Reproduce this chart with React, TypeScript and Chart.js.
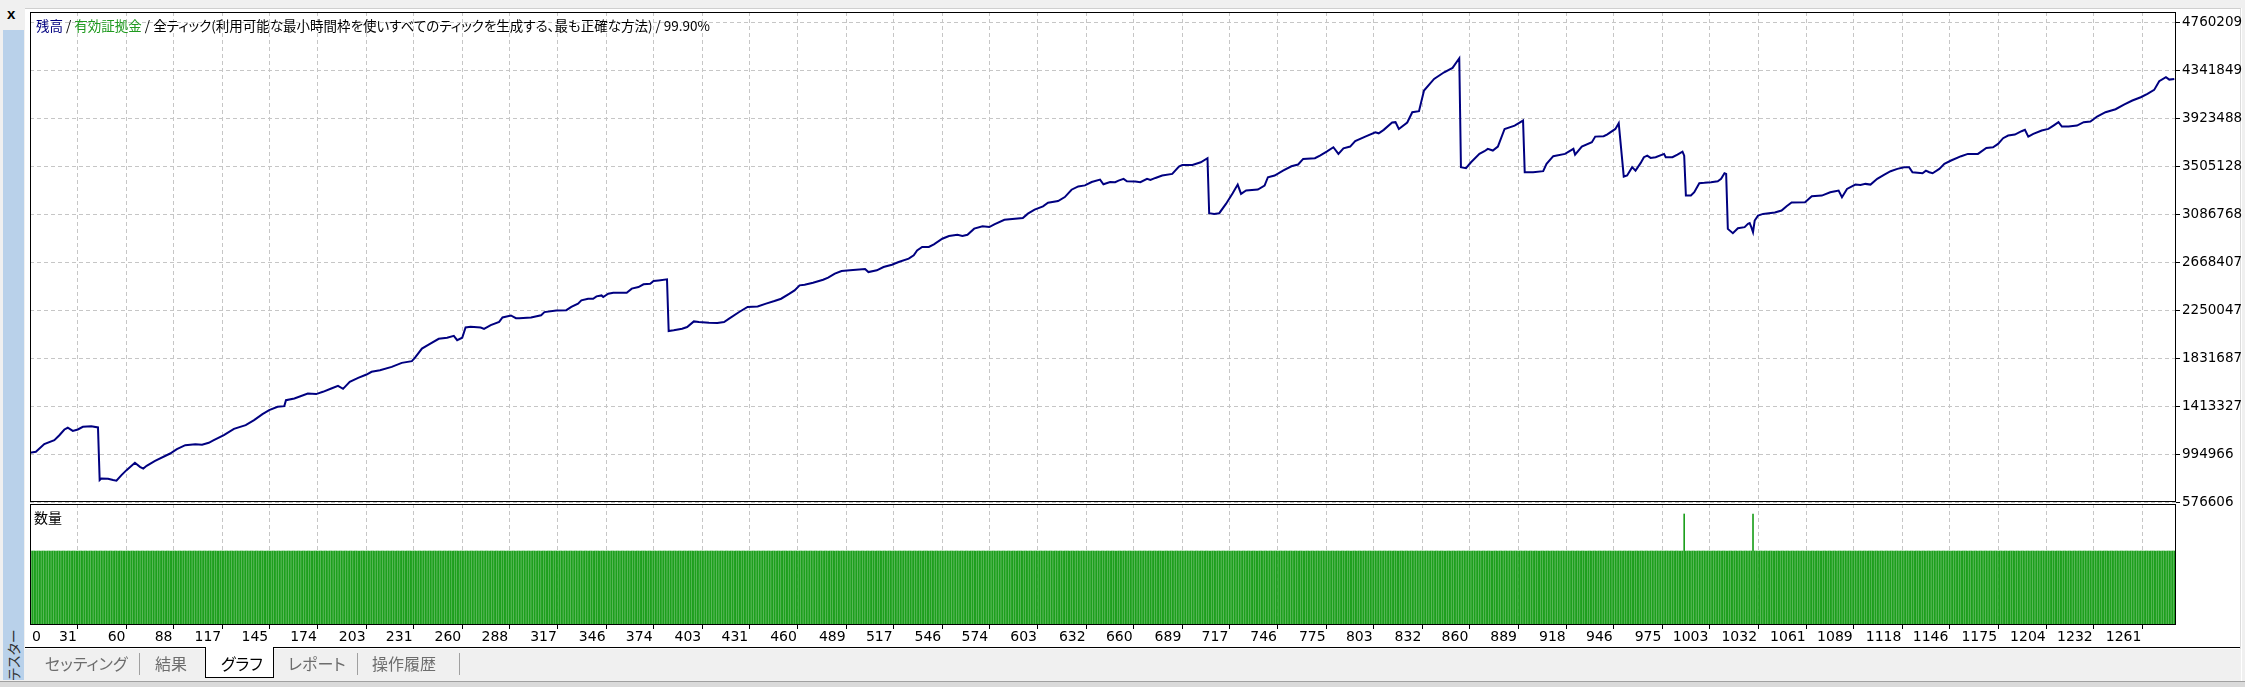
import React, { useEffect, useRef } from "react";
import { Chart, registerables } from "chart.js";

Chart.register(...registerables);

// ---- data ----
const Y_TICKS = [576606, 994966, 1413327, 1831687, 2250047, 2668407, 3086768, 3505128, 3923488, 4341849, 4760209];
const X_TICKS = [0, 31, 60, 88, 117, 145, 174, 203, 231, 260, 288, 317, 346, 374, 403, 431, 460, 489, 517, 546, 574, 603, 632, 660, 689, 717, 746, 775, 803, 832, 860, 889, 918, 946, 975, 1003, 1032, 1061, 1089, 1118, 1146, 1175, 1204, 1232, 1261];

// [trade number, balance]
const BALANCE_POINTS: [number, number][] = [
  [0, 1000000], [6, 1015000], [11, 1082000], [17, 1117000], [20, 1160000], [23, 1210000], [25, 1225000], [28, 1198000], [31, 1210000], [34, 1233000],
  [39, 1239000], [43, 1228000], [44, 768000], [45, 782000], [49, 779000], [52, 768000], [54, 762000], [57, 811000], [60, 855000], [65, 919000],
  [68, 884000], [70, 869000], [72, 893000], [77, 936000], [86, 1000000], [90, 1038000], [95, 1073000], [101, 1082000], [105, 1076000], [109, 1094000],
  [112, 1117000], [118, 1161000], [124, 1216000], [131, 1248000], [136, 1292000], [141, 1344000], [145, 1379000], [150, 1408000], [154, 1414000], [155, 1466000],
  [160, 1481000], [168, 1524000], [173, 1519000], [177, 1539000], [182, 1568000], [186, 1591000], [189, 1565000], [193, 1626000], [198, 1661000], [203, 1690000],
  [206, 1714000], [211, 1728000], [218, 1757000], [224, 1792000], [230, 1807000], [232, 1839000], [236, 1917000], [240, 1952000], [246, 2002000], [251, 2011000],
  [255, 2028000], [257, 1990000], [260, 2011000], [262, 2101000], [265, 2107000], [271, 2101000], [273, 2089000], [277, 2121000], [282, 2150000], [284, 2188000],
  [289, 2206000], [292, 2182000], [294, 2182000], [301, 2188000], [307, 2208000], [309, 2235000], [316, 2249000], [322, 2252000], [325, 2281000], [329, 2309000],
  [331, 2338000], [335, 2352000], [338, 2352000], [340, 2373000], [343, 2381000], [344, 2367000], [347, 2396000], [350, 2405000], [358, 2405000], [361, 2440000],
  [365, 2454000], [368, 2478000], [372, 2483000], [374, 2507000], [377, 2512000], [382, 2521000], [383, 2070000], [386, 2076000], [391, 2090000], [394, 2105000],
  [398, 2154000], [401, 2149000], [407, 2143000], [412, 2140000], [416, 2149000], [419, 2178000], [425, 2236000], [430, 2280000], [436, 2285000], [441, 2309000],
  [446, 2332000], [450, 2352000], [455, 2396000], [458, 2425000], [461, 2469000], [464, 2475000], [469, 2492000], [475, 2518000], [478, 2536000], [482, 2571000],
  [486, 2594000], [491, 2600000], [500, 2611000], [502, 2585000], [507, 2600000], [511, 2629000], [516, 2649000], [520, 2673000], [526, 2702000], [529, 2731000],
  [531, 2774000], [534, 2804000], [538, 2804000], [541, 2827000], [546, 2876000], [550, 2900000], [555, 2911000], [558, 2900000], [561, 2911000], [565, 2964000],
  [570, 2984000], [574, 2978000], [577, 3002000], [583, 3042000], [594, 3057000], [597, 3095000], [601, 3130000], [606, 3159000], [609, 3191000], [615, 3205000],
  [619, 3240000], [623, 3304000], [627, 3333000], [631, 3342000], [635, 3371000], [640, 3392000], [642, 3352000], [646, 3371000], [649, 3370000], [651, 3384000],
  [654, 3399000], [656, 3378000], [661, 3375000], [664, 3370000], [668, 3399000], [670, 3390000], [673, 3407000], [677, 3428000], [683, 3442000], [687, 3506000],
  [689, 3521000], [695, 3521000], [700, 3544000], [704, 3579000], [705, 3099000], [708, 3093000], [711, 3099000], [715, 3180000], [719, 3274000], [722, 3349000],
  [724, 3268000], [727, 3297000], [734, 3306000], [738, 3340000], [740, 3413000], [744, 3428000], [749, 3471000], [754, 3509000], [758, 3524000], [761, 3573000],
  [768, 3579000], [771, 3602000], [775, 3637000], [779, 3675000], [782, 3617000], [785, 3666000], [789, 3681000], [792, 3728000], [798, 3768000], [804, 3806000],
  [806, 3797000], [809, 3827000], [814, 3891000], [816, 3894000], [818, 3835000], [823, 3891000], [826, 3981000], [830, 3990000], [833, 4170000], [839, 4272000],
  [845, 4330000], [850, 4368000], [854, 4452000], [855, 3501000], [858, 3492000], [861, 3544000], [866, 3617000], [869, 3640000], [871, 3661000], [874, 3646000],
  [877, 3681000], [881, 3835000], [887, 3864000], [892, 3908000], [893, 3457000], [898, 3457000], [904, 3466000], [906, 3530000], [910, 3597000], [917, 3617000],
  [922, 3661000], [923, 3611000], [927, 3681000], [933, 3719000], [935, 3768000], [940, 3771000], [942, 3786000], [947, 3835000], [949, 3885000], [952, 3419000],
  [954, 3428000], [957, 3501000], [959, 3471000], [962, 3536000], [964, 3588000], [966, 3602000], [968, 3582000], [971, 3588000], [976, 3617000], [977, 3588000],
  [981, 3588000], [984, 3611000], [987, 3637000], [988, 3602000], [989, 3253000], [992, 3253000], [994, 3282000], [997, 3361000], [1000, 3364000], [1004, 3370000],
  [1008, 3378000], [1010, 3399000], [1012, 3448000], [1013, 3442000], [1014, 2962000], [1017, 2924000], [1020, 2968000], [1024, 2977000], [1026, 3006000], [1027, 3012000],
  [1028, 2977000], [1029, 2933000], [1030, 3035000], [1032, 3078000], [1035, 3093000], [1042, 3105000], [1046, 3122000], [1049, 3160000], [1052, 3192000], [1060, 3195000],
  [1064, 3247000], [1070, 3253000], [1075, 3282000], [1078, 3291000], [1080, 3297000], [1082, 3239000], [1085, 3311000], [1090, 3349000], [1093, 3346000], [1096, 3355000],
  [1099, 3349000], [1103, 3399000], [1107, 3434000], [1111, 3466000], [1115, 3486000], [1119, 3501000], [1122, 3501000], [1124, 3457000], [1130, 3448000], [1132, 3471000],
  [1134, 3457000], [1136, 3448000], [1140, 3486000], [1143, 3530000], [1147, 3559000], [1153, 3597000], [1157, 3617000], [1163, 3617000], [1168, 3669000], [1172, 3675000],
  [1175, 3704000], [1178, 3754000], [1181, 3777000], [1185, 3786000], [1189, 3815000], [1191, 3827000], [1193, 3768000], [1196, 3792000], [1201, 3821000], [1205, 3835000],
  [1208, 3864000], [1211, 3894000], [1213, 3856000], [1217, 3856000], [1222, 3864000], [1226, 3894000], [1230, 3899000], [1234, 3943000], [1239, 3981000], [1245, 4007000],
  [1250, 4048000], [1255, 4083000], [1260, 4112000], [1264, 4141000], [1268, 4176000], [1271, 4252000], [1275, 4287000], [1277, 4266000], [1280, 4272000],
];

// volume panel: every trade uses the base lot, except these
const TRADE_COUNT = 1280;
const BASE_LOT = 0.1;
const LOT_SPIKES: [number, number][] = [[988, 0.15], [1029, 0.15]];

const TABS = ["セッティング", "結果", "グラフ", "レポート", "操作履歴"];
const SELECTED_TAB = "グラフ";

// ---- scale ranges / styles ----
const X_MIN = 2.5;
const X_MAX = 1281;
const Y_MIN = 576606;
const Y_MAX = 4856283;
const VOL_MAX = 0.1635;
const GRID = "#c6c6c6";
const DASH = [4, 3];
const NUM_FONT = "DejaVu Sans";
const JP_FONT = '"Noto Sans CJK JP", sans-serif';

const framePlugin = {
  id: "frame",
  afterDraw(chart: any) {
    const { ctx, chartArea: a } = chart;
    ctx.save();
    ctx.strokeStyle = "#000";
    ctx.lineWidth = 1;
    const l = Math.round(a.left) + 0.5;
    const t = Math.round(a.top) + 0.5;
    const r = Math.round(a.right) - 0.5;
    const b = Math.round(a.bottom) - 0.5;
    ctx.strokeRect(l, t, r - l, b - t);
    ctx.restore();
  },
};

const xLabelPlugin = {
  id: "xLabels",
  afterDraw(chart: any) {
    const { ctx, chartArea, scales } = chart;
    const x = scales.x;
    ctx.save();
    ctx.font = `14px "${NUM_FONT}"`;
    ctx.fillStyle = "#000";
    ctx.textBaseline = "middle";
    const y = chartArea.bottom + 12;
    X_TICKS.forEach((v) => {
      if (v <= X_MIN) {
        ctx.textAlign = "left";
        ctx.fillText(String(v), chartArea.left + 2, y);
      } else {
        ctx.textAlign = "right";
        ctx.fillText(String(v), x.getPixelForValue(v) - 1, y);
      }
    });
    ctx.restore();
  },
};

const xGridTicks = (s: any) => {
  s.ticks = X_TICKS.filter((v) => v > X_MIN && v < X_MAX).map((v) => ({ value: v }));
};

export default function App() {
  const topRef = useRef<HTMLCanvasElement>(null);
  const botRef = useRef<HTMLCanvasElement>(null);

  useEffect(() => {
    document.body.style.margin = "0";
    Chart.defaults.font.family = NUM_FONT;

    const balanceData = BALANCE_POINTS.map(([t, v]) => ({ x: t, y: v }));
    const spikeMap = new Map(LOT_SPIKES);
    const volumeData: { x: number; y: number }[] = [];
    for (let t = 1; t <= TRADE_COUNT; t++) {
      volumeData.push({ x: t, y: spikeMap.get(t) ?? BASE_LOT });
    }

    const top = new Chart(topRef.current!, {
      type: "line",
      data: {
        datasets: [
          {
            data: balanceData,
            borderColor: "#000080",
            borderWidth: 2,
            pointRadius: 0,
            tension: 0,
            fill: false,
          },
        ],
      },
      options: {
        responsive: false,
        animation: false,
        events: [],
        layout: { padding: { left: 30, top: 12, right: 0, bottom: 18 } },
        plugins: { legend: { display: false }, tooltip: { enabled: false }, title: { display: false } },
        scales: {
          x: {
            type: "linear",
            min: X_MIN,
            max: X_MAX,
            offset: false,
            afterBuildTicks: xGridTicks,
            ticks: { display: false },
            grid: { color: GRID, drawTicks: false, offset: false },
            border: { display: false, dash: DASH },
            afterFit: (s: any) => {
              s.height = 0;
            },
          },
          y: {
            position: "right",
            min: Y_MIN,
            max: Y_MAX,
            afterBuildTicks: (s: any) => {
              s.ticks = Y_TICKS.map((v) => ({ value: v }));
            },
            ticks: {
              autoSkip: false,
              color: "#000",
              font: { family: NUM_FONT, size: 13.5 },
              padding: 2,
              callback: (v: any) => String(v),
            },
            grid: { color: GRID, tickColor: "#000", tickLength: 4 },
            border: { display: false, dash: DASH },
            afterFit: (s: any) => {
              s.width = 69;
            },
          },
        },
      } as any,
      plugins: [framePlugin],
    });

    const bot = new Chart(botRef.current!, {
      type: "bar",
      data: {
        datasets: [
          {
            data: volumeData,
            backgroundColor: "#1d9f1d",
            borderWidth: 0,
            barThickness: 1,
            grouped: false,
          } as any,
        ],
      },
      options: {
        responsive: false,
        animation: false,
        events: [],
        layout: { padding: { left: 30, right: 69, top: 1, bottom: 0 } },
        plugins: { legend: { display: false }, tooltip: { enabled: false } },
        scales: {
          x: {
            type: "linear",
            min: X_MIN,
            max: X_MAX,
            offset: false,
            afterBuildTicks: xGridTicks,
            ticks: { display: false },
            grid: { color: GRID, drawTicks: true, tickLength: 4, tickColor: "#000", offset: false },
            border: { display: false, dash: DASH },
            afterFit: (s: any) => {
              s.height = 23;
            },
          },
          y: { display: false, min: 0, max: VOL_MAX },
        },
      } as any,
      plugins: [framePlugin, xLabelPlugin],
    });

    return () => {
      top.destroy();
      bot.destroy();
    };
  }, []);

  const abs = (o: React.CSSProperties): React.CSSProperties => ({ position: "absolute", ...o });
  const tabX: Record<string, number> = { "セッティング": 45, "結果": 155, "グラフ": 221, "レポート": 288, "操作履歴": 372 };

  return (
    <div style={{ position: "relative", width: 2245, height: 687, overflow: "hidden", background: "#f0f0f0", fontFamily: JP_FONT }}>
      {/* white chart window */}
      <div style={abs({ left: 25, top: 8, width: 2215, height: 640, background: "#fff", borderTop: "1px solid #cfcfcf", borderRight: "1px solid #dcdcdc" })} />
      {/* close x */}
      <div style={abs({ left: 7, top: 6, fontFamily: "Liberation Sans, Arial", fontWeight: 700, fontSize: 15, color: "#000", lineHeight: "16px" })}>x</div>
      {/* side bar */}
      <div style={abs({ left: 3, top: 30, width: 21, height: 650, background: "#b9d1ea" })} />
      <div
        style={abs({
          left: 13,
          top: 655,
          transform: "translate(-50%, -50%) rotate(-90deg)",
          fontSize: 14,
          lineHeight: "16px",
          color: "#333",
          whiteSpace: "nowrap",
          fontFeatureSettings: '"palt"',
        })}
      >
        テスター
      </div>

      <canvas ref={topRef} width={2245} height={520} style={abs({ left: 0, top: 0, zIndex: 1 })} />
      <canvas ref={botRef} width={2245} height={145} style={abs({ left: 0, top: 503, zIndex: 2 })} />

      {/* title */}
      <div style={abs({ left: 36, top: 17, fontSize: 13.5, lineHeight: "16px", whiteSpace: "nowrap", zIndex: 3, fontFeatureSettings: '"palt"', color: "#000" })}>
        <span style={{ color: "#000080" }}>残高</span>
        {" / "}
        <span style={{ color: "#1f9a1f" }}>有効証拠金</span>
        {" / 全ティック(利用可能な最小時間枠を使いすべてのティックを生成する、最も正確な方法) / 99.90%"}
      </div>
      <div style={abs({ left: 34, top: 509, fontSize: 14, lineHeight: "16px", whiteSpace: "nowrap", zIndex: 3, color: "#000" })}>数量</div>

      {/* tab strip */}
      <div style={abs({ left: 25, top: 647, width: 2215, height: 1, background: "#000", zIndex: 3 })} />
      <div style={abs({ left: 205, top: 647, width: 67, height: 30, background: "#fff", borderLeft: "1px solid #000", borderRight: "1px solid #000", borderBottom: "1px solid #000", zIndex: 4 })} />
      {[139, 357, 459].map((x) => (
        <div key={x} style={abs({ left: x, top: 653, width: 1, height: 22, background: "#a0a0a0", zIndex: 3 })} />
      ))}
      {TABS.map((t) => (
        <div
          key={t}
          style={abs({
            left: tabX[t],
            top: 653,
            fontSize: 16,
            lineHeight: "20px",
            whiteSpace: "nowrap",
            color: t === SELECTED_TAB ? "#000" : "#6d6d6d",
            zIndex: 5,
            fontFeatureSettings: '"palt"',
          })}
        >
          {t}
        </div>
      ))}
      <div style={abs({ left: 2241, top: 8, width: 1, height: 673, background: "#fff" })} />
      <div style={abs({ left: 0, top: 681, width: 2245, height: 1, background: "#a0a0a0" })} />
      <div style={abs({ left: 0, top: 682, width: 2245, height: 5, background: "#dadada" })} />
    </div>
  );
}
